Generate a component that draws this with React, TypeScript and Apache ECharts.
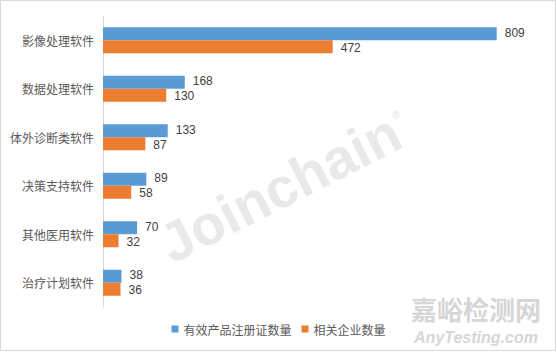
import React, { useEffect, useRef } from "react";
import * as echarts from "echarts";

const categories = ["影像处理软件", "数据处理软件", "体外诊断类软件", "决策支持软件", "其他医用软件", "治疗计划软件"];
const registrations = [809, 168, 133, 89, 70, 38];
const companies = [472, 130, 87, 58, 32, 36];
const seriesNames = ["有效产品注册证数量", "相关企业数量"];

const FONT = '"Noto Sans CJK SC", "Liberation Sans", sans-serif';
const NUM_FONT = '"Liberation Sans", Arial, sans-serif';

export default function App() {
  const ref = useRef<HTMLDivElement>(null);
  useEffect(() => {
    const chart = echarts.init(ref.current!, null, { renderer: "svg" });
    const label = (dy: number) => ({
      show: true,
      position: "right",
      distance: 8,
      offset: [0, dy],
      fontSize: 12,
      lineHeight: 12,
      color: "#404040",
      fontFamily: NUM_FONT,
    });
    chart.setOption({
      animation: false,
      backgroundColor: "#ffffff",
      textStyle: { fontFamily: FONT },
      grid: { left: 103, top: 16, right: 16, height: 291, containLabel: false },
      legend: {
        bottom: 12,
        left: "center",
        itemWidth: 7,
        itemHeight: 7,
        itemGap: 10,
        icon: "rect",
        textStyle: { fontSize: 12, color: "#595959", fontFamily: FONT },
        data: seriesNames,
      },
      xAxis: {
        type: "value",
        min: 0,
        max: 900,
        show: false,
        splitLine: { show: false },
      },
      yAxis: {
        type: "category",
        data: categories,
        inverse: true,
        axisLine: { lineStyle: { color: "#d9d9d9", width: 1 } },
        axisTick: { show: false },
        axisLabel: { fontSize: 12, color: "#595959", margin: 9, fontFamily: FONT },
      },
      series: [
        {
          name: seriesNames[0],
          type: "bar",
          data: registrations,
          barWidth: 13,
          barGap: "0%",
          itemStyle: { color: "#5B9BD5" },
          label: label(-1),
        },
        {
          name: seriesNames[1],
          type: "bar",
          data: companies,
          barWidth: 13,
          barGap: "0%",
          itemStyle: { color: "#ED7D31" },
          label: label(1),
        },
      ],
      graphic: [
        {
          type: "rect",
          z: -10,
          silent: true,
          shape: { x: 0.5, y: 0.5, width: 555, height: 350 },
          style: { fill: "none", stroke: "#d9d9d9", lineWidth: 1 },
        },
        {
          type: "text",
          z: -5,
          silent: true,
          x: 280,
          y: 188,
          rotation: 0.47,
          style: {
            text: "Joinchain",
            fill: "#e9e9e9",
            fontSize: 56,
            fontWeight: "bold",
            fontFamily: NUM_FONT,
            align: "center",
            verticalAlign: "middle",
          },
        },
        {
          type: "text",
          z: -5,
          silent: true,
          x: 396,
          y: 115,
          style: {
            text: "®",
            fill: "#e3e3e3",
            fontSize: 10,
            fontFamily: NUM_FONT,
            align: "center",
            verticalAlign: "middle",
          },
        },
        {
          type: "text",
          silent: true,
          x: 476,
          y: 308,
          style: {
            text: "嘉峪检测网",
            fill: "#d6d6d6",
            fontSize: 26,
            lineHeight: 26,
            fontWeight: "bold",
            fontFamily: '"Noto Sans CJK SC", sans-serif',
            align: "center",
            verticalAlign: "middle",
          },
        },
        {
          type: "text",
          silent: true,
          x: 476,
          y: 337,
          style: {
            text: "AnyTesting.com",
            fill: "#d6d6d6",
            fontSize: 16,
            lineHeight: 16,
            fontWeight: "bold",
            fontStyle: "italic",
            fontFamily: NUM_FONT,
            align: "center",
            verticalAlign: "middle",
          },
        },
      ],
    });
    return () => chart.dispose();
  }, []);
  return (
    <div
      ref={ref}
      style={{ position: "fixed", left: 0, top: 0, width: 557, height: 352 }}
    />
  );
}
